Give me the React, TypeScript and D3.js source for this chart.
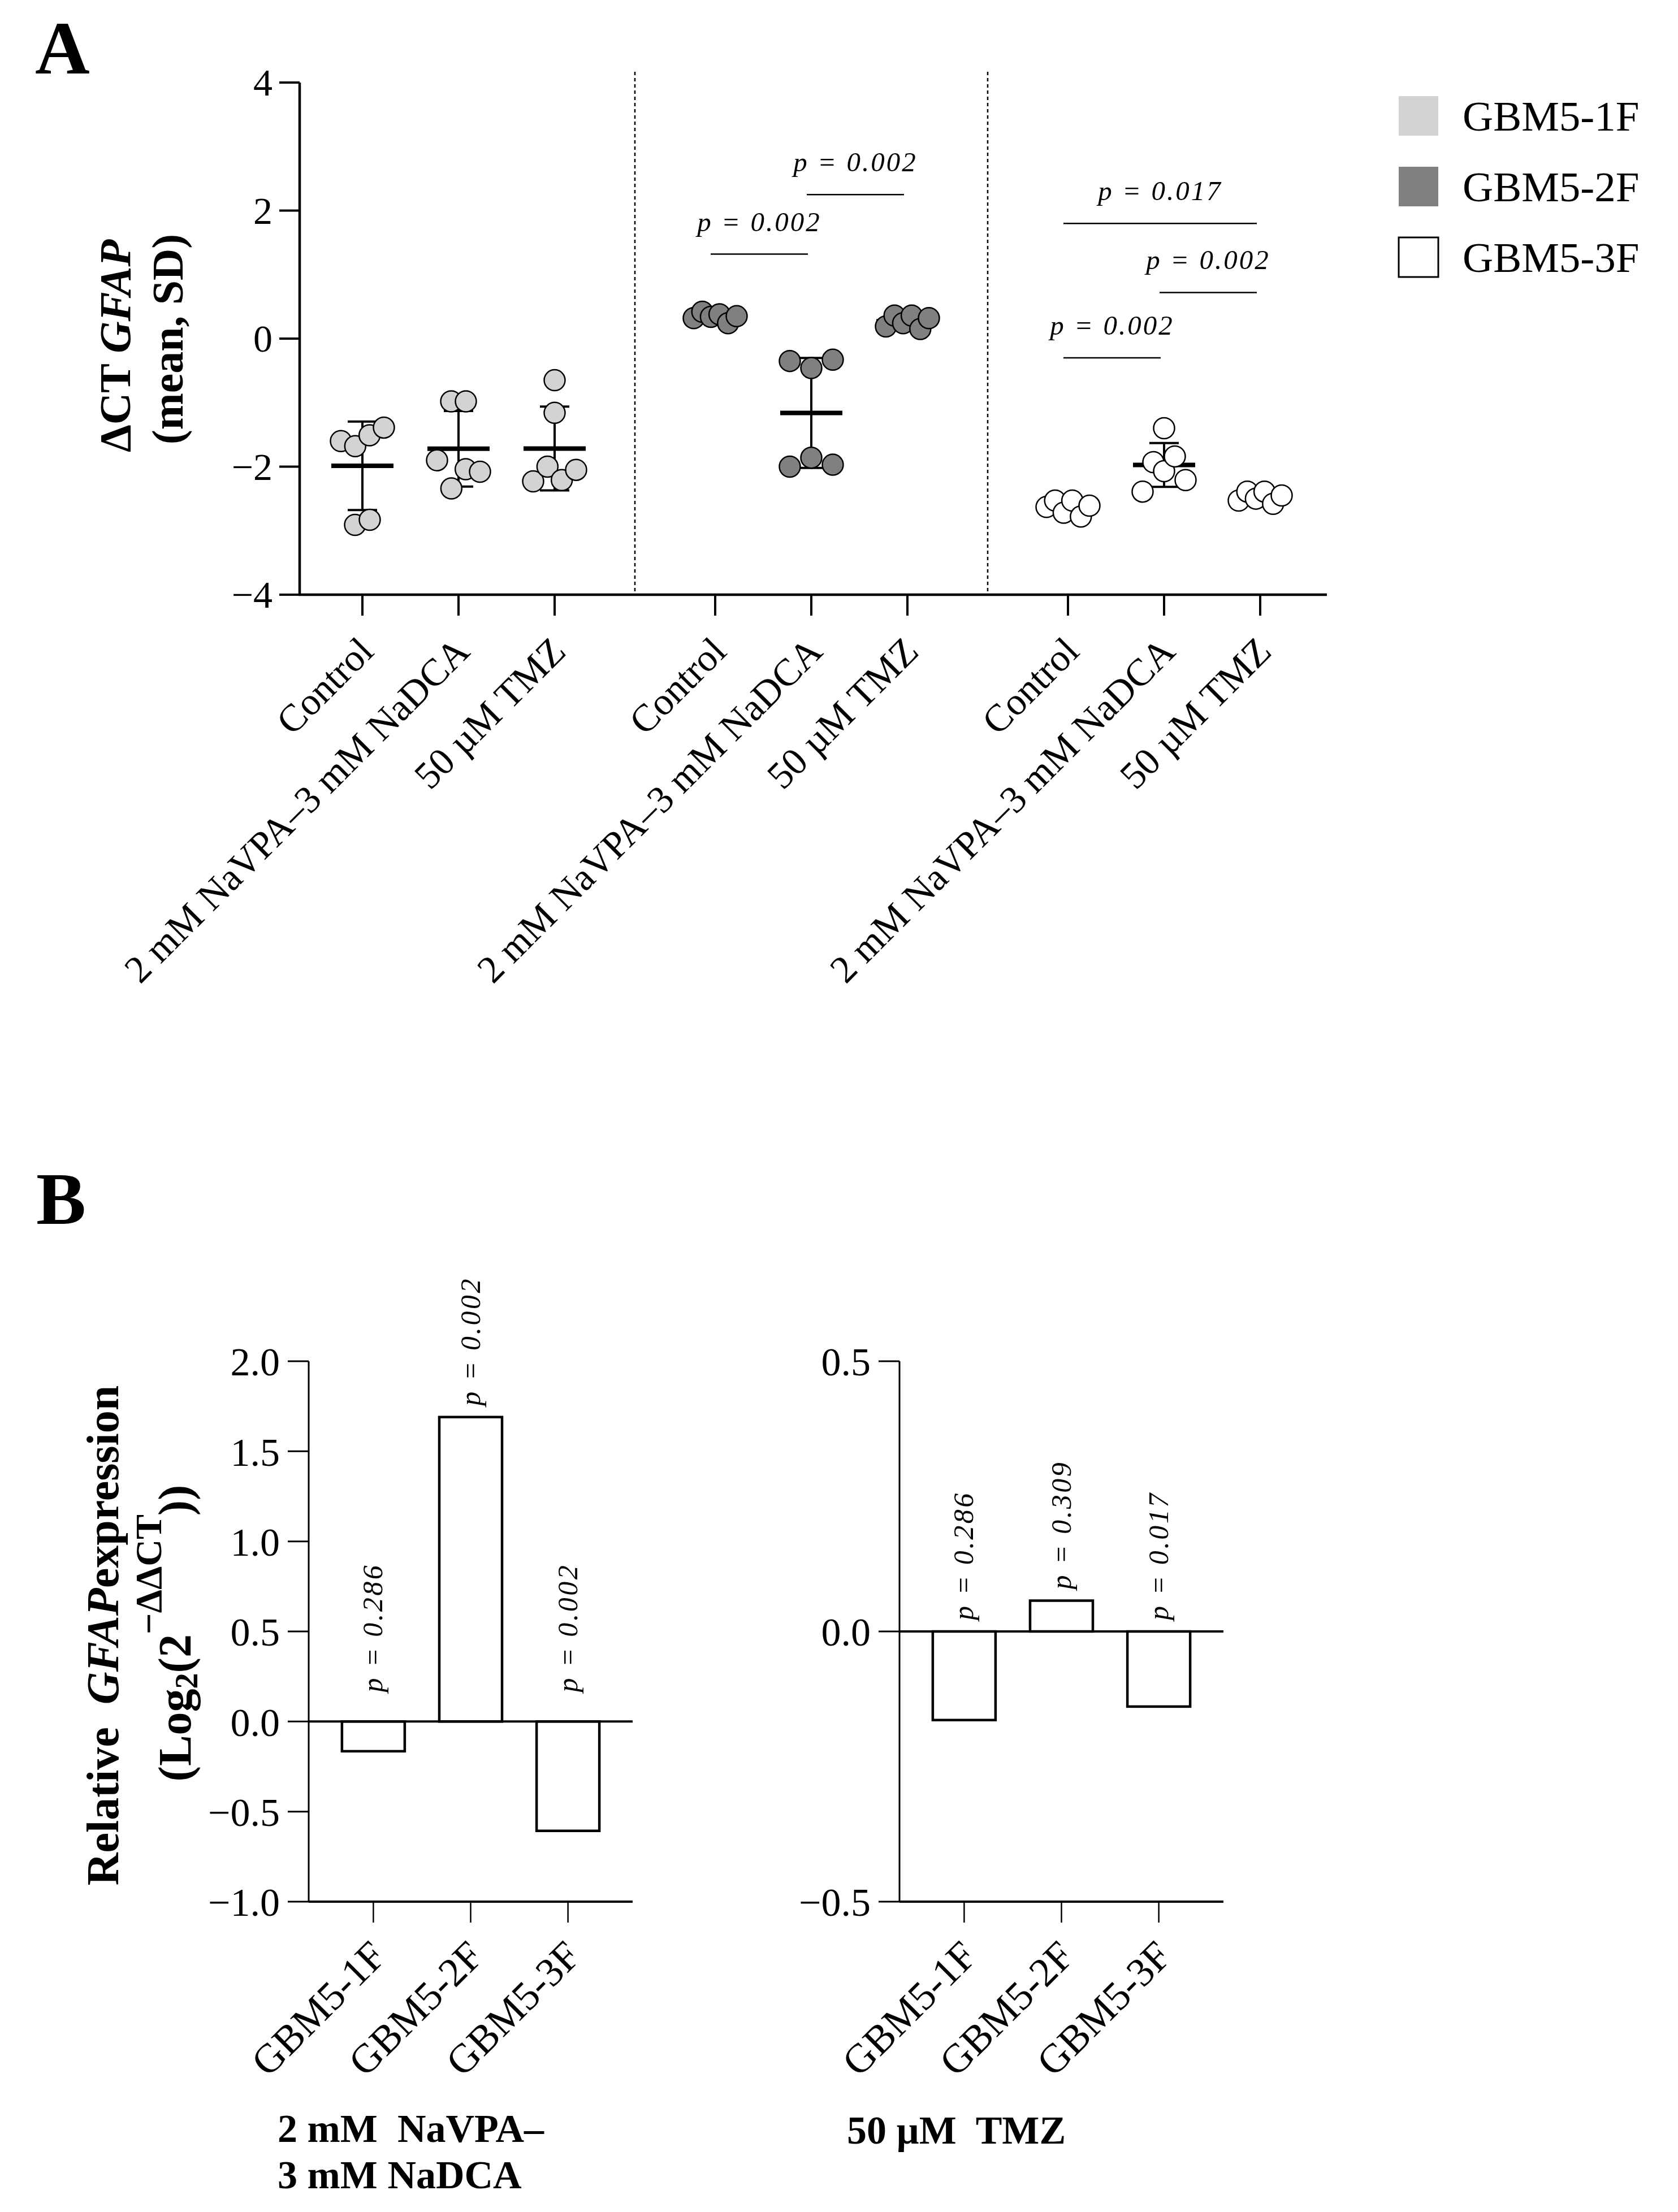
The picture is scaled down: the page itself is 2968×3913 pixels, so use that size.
import React, { useEffect } from 'react';
import * as d3 from 'd3';

const FONT = '"Liberation Serif", "Times New Roman", Times, serif';

// ---------- DATA ----------
const cellLines = ['GBM5-1F', 'GBM5-2F', 'GBM5-3F'];
const treatments = ['Control', '2 mM NaVPA\u20133 mM NaDCA', '50 \u00b5M TMZ'];
const cellFills = ['#d3d3d3', '#808080', '#ffffff'];

// ΔCT GFAP replicates (per treatment), listed left-to-right within overlapping clusters
const gbm1F = [
  [-1.60, -1.68, -1.51, -1.39, -2.91, -2.83],
  [-0.98, -0.98, -1.90, -2.34, -2.04, -2.08],
  [-0.65, -1.16, -2.23, -2.00, -2.21, -2.05],
];
const gbm2F = [
  [0.32, 0.42, 0.34, 0.38, 0.24, 0.35],
  [-0.35, -0.46, -0.33, -2.00, -1.86, -1.97],
  [0.19, 0.36, 0.24, 0.36, 0.15, 0.32],
];
const gbm3F = [
  [-2.63, -2.53, -2.72, -2.53, -2.78, -2.61],
  [-1.40, -2.39, -1.93, -2.07, -1.84, -2.21],
  [-2.53, -2.39, -2.50, -2.39, -2.58, -2.45],
];
const replicateData = [gbm1F, gbm2F, gbm3F];

const ticksA = [-4, -2, 0, 2, 4];

// significance brackets in panel A
const bracketCell = [1, 1, 2, 2, 2];
const bracketFrom = [0, 1, 0, 1, 0];
const bracketTo = [1, 2, 2, 2, 1];
const bracketY = [1.32, 2.25, 1.8, 0.72, -0.3];
const bracketP = ['p = 0.002', 'p = 0.002', 'p = 0.017', 'p = 0.002', 'p = 0.002'];

// Panel B: relative GFAP expression
const relNaVPA = [-0.165, 1.69, -0.607];
const relTMZ = [-0.164, 0.057, -0.139];
const pNaVPA = ['p = 0.286', 'p = 0.002', 'p = 0.002'];
const pTMZ = ['p = 0.286', 'p = 0.309', 'p = 0.017'];
const ticksNaVPA = [-1, -0.5, 0, 0.5, 1, 1.5, 2];
const ticksTMZ = [-0.5, 0, 0.5];

// ---------- helpers ----------
function swarmOffsets(vals: number[], y: (v: number) => number): number[] {
  const idx = vals.map((_, i) => i).sort((a, b) => y(vals[a]) - y(vals[b]));
  const clusters: number[][] = [];
  let cur: number[] = [];
  idx.forEach((i, k) => {
    if (k === 0 || y(vals[i]) - y(vals[idx[k - 1]]) >= 38) {
      if (cur.length) clusters.push(cur);
      cur = [i];
    } else cur.push(i);
  });
  if (cur.length) clusters.push(cur);
  const off = new Array(vals.length).fill(0);
  clusters.forEach((c) => {
    const m = c.slice().sort((a, b) => a - b);
    const n = m.length;
    m.forEach((i, j) => {
      off[i] = n === 1 ? 0 : n === 2 ? (j === 0 ? -13 : 13) : -38 + (76 * j) / (n - 1);
    });
  });
  return off;
}

const fmtA = d3.format('d');
const fmtB = d3.format('.1f');

function PanelA() {
  const yA = d3.scaleLinear().domain([-4, 4]).range([1052, 146]);
  const xCell = d3.scalePoint<string>().domain(cellLines).range([811, 2059]);
  const xTreat = d3.scalePoint<string>().domain(treatments).range([-170, 170]);
  const xA = (c: number, t: number) => (xCell(cellLines[c]) as number) + (xTreat(treatments[t]) as number);
  const axisX0 = 530;
  const axisX1 = 2347;
  const y0 = yA(-4);

  const separators = [0, 1].map((c) => (xA(c, 2) + xA(c + 1, 0)) / 2);

  return (
    <g>
      <text x={62} y={130} fontFamily={FONT} fontWeight="bold" fontSize={134}>A</text>
      {/* y label */}
      <text transform={`translate(230,612) rotate(-90)`} textAnchor="middle" fontFamily={FONT} fontWeight="bold" fontSize={78}>
        {'\u0394CT '}<tspan fontStyle="italic">GFAP</tspan>
      </text>
      <text transform={`translate(323,600) rotate(-90)`} textAnchor="middle" fontFamily={FONT} fontWeight="bold" fontSize={78}>
        (mean, SD)
      </text>
      {/* separators */}
      {separators.map((sx, i) => (
        <line key={i} x1={sx} x2={sx} y1={127} y2={y0} stroke="#000" strokeWidth={2.5} strokeDasharray="6,5" />
      ))}
      {/* axes */}
      <line x1={axisX0} x2={axisX0} y1={yA(4)} y2={y0 + 2} stroke="#000" strokeWidth={4.5} />
      <line x1={axisX0 - 2} x2={axisX1} y1={y0} y2={y0} stroke="#000" strokeWidth={4.5} />
      {ticksA.map((t) => (
        <g key={t}>
          <line x1={axisX0 - 36} x2={axisX0} y1={yA(t)} y2={yA(t)} stroke="#000" strokeWidth={4} />
          <text x={axisX0 - 48} y={yA(t)} dy="0.34em" textAnchor="end" fontFamily={FONT} fontSize={68}>
            {fmtA(t)}
          </text>
        </g>
      ))}
      {cellLines.map((cl, c) =>
        treatments.map((tr, t) => {
          const x = xA(c, t);
          return (
            <g key={cl + tr}>
              <line x1={x} x2={x} y1={y0} y2={y0 + 37} stroke="#000" strokeWidth={4} />
              <text
                transform={`translate(${x + 23},${y0 + 104}) rotate(-45)`}
                textAnchor="end"
                fontFamily={FONT}
                fontSize={68}
              >
                {tr}
              </text>
            </g>
          );
        })
      )}
      {/* data */}
      {replicateData.map((cellVals, c) =>
        cellVals.map((vals, t) => {
          const x = xA(c, t);
          const m = d3.mean(vals) as number;
          const sd = d3.deviation(vals) as number;
          const off = swarmOffsets(vals, yA);
          return (
            <g key={`${c}-${t}`}>
              <line x1={x} x2={x} y1={yA(m + sd)} y2={yA(m - sd)} stroke="#000" strokeWidth={4} />
              <line x1={x - 26} x2={x + 26} y1={yA(m + sd)} y2={yA(m + sd)} stroke="#000" strokeWidth={4} />
              <line x1={x - 26} x2={x + 26} y1={yA(m - sd)} y2={yA(m - sd)} stroke="#000" strokeWidth={4} />
              <line x1={x - 55} x2={x + 55} y1={yA(m)} y2={yA(m)} stroke="#000" strokeWidth={8} />
              {vals.map((v, i) => (
                <circle key={i} cx={x + off[i]} cy={yA(v)} r={18.5} fill={cellFills[c]} stroke="#000" strokeWidth={2.5} />
              ))}
            </g>
          );
        })
      )}
      {/* brackets */}
      {bracketY.map((by, i) => {
        const x1 = xA(bracketCell[i], bracketFrom[i]) - 8;
        const x2 = xA(bracketCell[i], bracketTo[i]) - 6;
        return (
          <g key={i}>
            <line x1={x1} x2={x2} y1={yA(by)} y2={yA(by)} stroke="#000" strokeWidth={2.5} />
            <text
              x={(x1 + x2) / 2}
              y={yA(by) - 41}
              textAnchor="middle"
              fontFamily={FONT}
              fontStyle="italic"
              fontSize={49}
              letterSpacing={3}
            >
              {bracketP[i]}
            </text>
          </g>
        );
      })}
      {/* legend */}
      {cellLines.map((cl, i) => (
        <g key={cl}>
          <rect
            x={2474}
            y={170 + i * 125}
            width={70}
            height={70}
            fill={cellFills[i]}
            stroke={i === 2 ? '#000' : 'none'}
            strokeWidth={3}
          />
          <text x={2587} y={231 + i * 125} fontFamily={FONT} fontSize={75}>
            {cl}
          </text>
        </g>
      ))}
    </g>
  );
}

function BarChart(props: {
  x0: number;
  values: number[];
  domain: [number, number];
  ticks: number[];
  pLabels: string[];
  labelFloor: number;
}) {
  const { x0, values, domain, ticks, pLabels, labelFloor } = props;
  const x1 = x0 + 573;
  const y = d3.scaleLinear().domain(domain).range([3364, 2408]);
  const xb = d3.scaleBand<string>().domain(cellLines).range([x0, x1]).paddingInner(0.355).paddingOuter(0.342);
  const bw = xb.bandwidth();
  return (
    <g>
      <line x1={x0} x2={x0} y1={y(domain[1])} y2={y(domain[0])} stroke="#000" strokeWidth={3} />
      {ticks.map((t) => (
        <g key={t}>
          <line x1={x0 - 37} x2={x0} y1={y(t)} y2={y(t)} stroke="#000" strokeWidth={3} />
          <text x={x0 - 51} y={y(t)} dy="0.36em" textAnchor="end" fontFamily={FONT} fontSize={70}>
            {fmtB(t)}
          </text>
        </g>
      ))}
      <line x1={x0} x2={x1} y1={y(domain[0])} y2={y(domain[0])} stroke="#000" strokeWidth={4} />
      {values.map((v, i) => {
        const cx = (xb(cellLines[i]) as number) + bw / 2;
        const top = y(Math.max(v, 0));
        const bot = y(Math.min(v, 0));
        return (
          <g key={i}>
            <rect x={cx - bw / 2} y={top} width={bw} height={bot - top} fill="#fff" stroke="#000" strokeWidth={4.5} />
            <text
              transform={`translate(${cx + 16},${y(Math.max(v, labelFloor)) - 20}) rotate(-90)`}
              fontFamily={FONT}
              fontStyle="italic"
              fontSize={50}
              letterSpacing={3.5}
            >
              {pLabels[i]}
            </text>
            <line x1={cx} x2={cx} y1={y(domain[0])} y2={y(domain[0]) + 37} stroke="#000" strokeWidth={2.5} />
            <text
              transform={`translate(${cx + 26},${y(domain[0]) + 100}) rotate(-45)`}
              textAnchor="end"
              fontFamily={FONT}
              fontSize={72}
            >
              {cellLines[i]}
            </text>
          </g>
        );
      })}
      <line x1={x0} x2={x1} y1={y(0)} y2={y(0)} stroke="#000" strokeWidth={4} />
    </g>
  );
}

// pieces of the second y-label line of panel B: text, size, baseline shift, advance (em)
const logLabelPieces: { t: string; size: number; shift: number; em: number }[] = [
  { t: '(Log', size: 82, shift: 0, em: 2.0 },
  { t: '2', size: 56, shift: 12, em: 0.5 },
  { t: '(2', size: 82, shift: 0, em: 0.833 },
  { t: '\u2212\u0394\u0394CT', size: 66, shift: -52, em: 3.18 },
  { t: '))', size: 82, shift: 0, em: 0.666 },
];

function LogLabel() {
  const widths = logLabelPieces.map((p) => p.size * p.em);
  const total = d3.sum(widths);
  const starts = d3.cumsum([0, ...widths.slice(0, -1)]).map((s) => s - total / 2);
  return (
    <g transform="translate(337,2889) rotate(-90)">
      {logLabelPieces.map((p, i) => (
        <text key={i} x={starts[i]} y={p.shift} fontFamily={FONT} fontWeight="bold" fontSize={p.size}>
          {p.t}
        </text>
      ))}
    </g>
  );
}

function PanelB() {
  return (
    <g>
      <text x={64} y={2165} fontFamily={FONT} fontWeight="bold" fontSize={132}>B</text>
      <text transform={`translate(209,2893) rotate(-90)`} textAnchor="middle" fontFamily={FONT} fontWeight="bold" fontSize={80} style={{ whiteSpace: 'pre' }}>
        {'Relative  '}<tspan fontStyle="italic">GFAP</tspan>{'expression'}
      </text>
      <LogLabel />
      <BarChart x0={546} values={relNaVPA} domain={[-1, 2]} ticks={ticksNaVPA} pLabels={pNaVPA} labelFloor={0.1} />
      <BarChart x0={1591} values={relTMZ} domain={[-0.5, 0.5]} ticks={ticksTMZ} pLabels={pTMZ} labelFloor={0} />
      <text x={491} y={3789} fontFamily={FONT} fontWeight="bold" fontSize={70} style={{ whiteSpace: 'pre' }}>
        {'2 mM  NaVPA\u2013'}
      </text>
      <text x={491} y={3871} fontFamily={FONT} fontWeight="bold" fontSize={70} style={{ whiteSpace: 'pre' }}>
        {'3 mM NaDCA'}
      </text>
      <text x={1498} y={3792} fontFamily={FONT} fontWeight="bold" fontSize={70} style={{ whiteSpace: 'pre' }}>
        {'50 \u00b5M  TMZ'}
      </text>
    </g>
  );
}

export default function App() {
  useEffect(() => {
    document.body.style.margin = '0';
  }, []);
  return (
    <svg width={2968} height={3913} viewBox="0 0 2968 3913" style={{ display: 'block', background: '#fff' }}>
      <rect x={0} y={0} width={2968} height={3913} fill="#fff" />
      <PanelA />
      <PanelB />
    </svg>
  );
}
